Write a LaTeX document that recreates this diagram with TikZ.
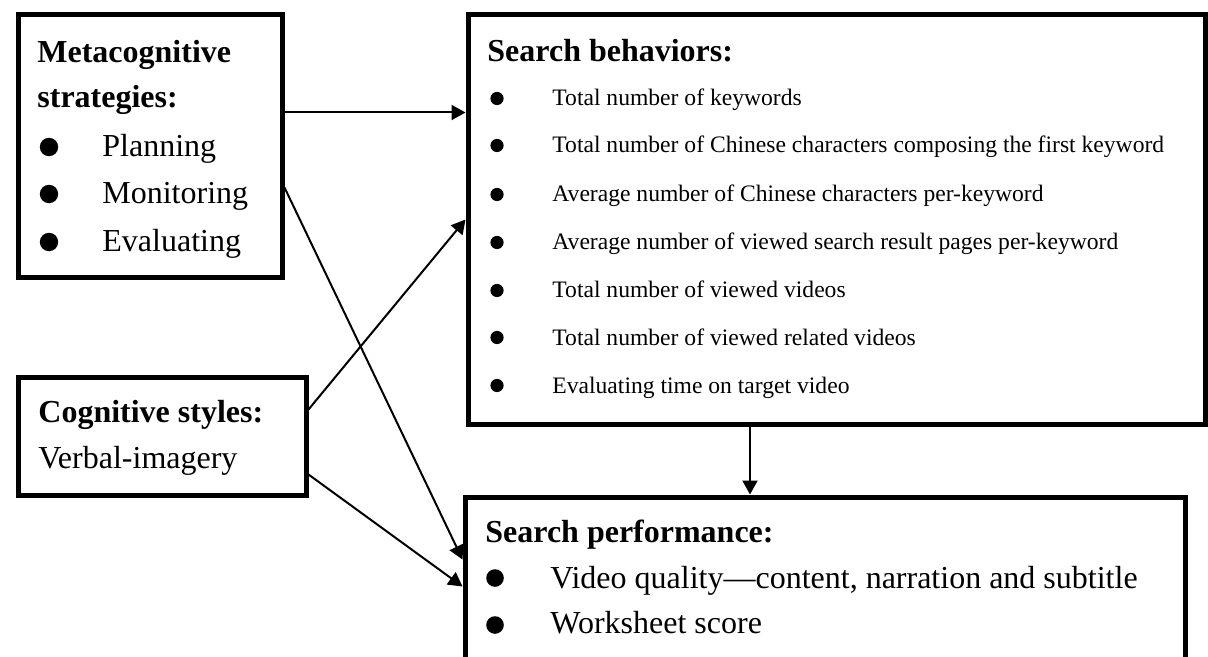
\documentclass[tikz,border=0pt]{standalone}
\usepackage{fontspec}
\setmainfont{Liberation Serif}
\usetikzlibrary{arrows.meta,calc}

\begin{document}
\begin{tikzpicture}[x=0.5pt,y=-0.5pt,
  frame/.style={draw, line width=2.5pt, rectangle, inner sep=0pt, anchor=north west, fill=white},
  link/.style={line width=1pt, -{Triangle[length=7pt,width=7.5pt]}},
  head/.style={font=\bfseries\fontsize{16pt}{19pt}\selectfont, anchor=base west, inner sep=0pt},
  big/.style={font=\fontsize{16pt}{19pt}\selectfont, anchor=base west, inner sep=0pt},
  small/.style={font=\fontsize{11.8pt}{14pt}\selectfont, anchor=base west, inner sep=0pt},
  dot/.style={fill=black}
]
\useasboundingbox (0,0) rectangle (1208,657);
\clip (0,0) rectangle (1208,657);

% boxes
\node[frame, minimum width=132pt, minimum height=131.5pt] (meta) at (15.5,12.5) {};
\node[frame, minimum width=368.5pt, minimum height=204.5pt] (beh) at (465.5,12.5) {};
\node[frame, minimum width=144pt, minimum height=59pt] (cog) at (15.5,374.5) {};
\node[frame, minimum width=360pt, minimum height=150pt] (perf) at (462.5,494.5) {};

% metacognitive strategies
\node[head] (metaA) at (37,63) {Metacognitive};
\node[head] (metaB) at (37,108) {strategies:};
\foreach \y/\t [count=\i] in {157/Planning,204/Monitoring,252/Evaluating}{
  \fill[dot] (49,\y-10) circle[radius=4.6pt];
  \node[big] (metaI\i) at (102,\y) {\t};
}

% search behaviors
\node[head] (behH) at (487,62) {Search behaviors:};
\foreach \y/\t [count=\i] in {
  106/Total number of keywords,
  153/Total number of Chinese characters composing the first keyword,
  202/Average number of Chinese characters per-keyword,
  250/Average number of viewed search result pages per-keyword,
  298/Total number of viewed videos,
  345/Total number of viewed related videos,
  393/Evaluating time on target video}{
  \fill[dot] (497,\y-7.5) circle[radius=3.3pt];
  \node[small] (behI\i) at (552,\y) {\t};
}

% cognitive styles
\node[head] (cogH) at (38,422) {Cognitive styles:};
\node[big] (cogI) at (38,468) {Verbal-imagery};

% search performance
\node[head] (perfH) at (485,542) {Search performance:};
\fill[dot] (495,578) circle[radius=4.4pt];
\node[big] (perfI1) at (550,588) {Video quality—content, narration and subtitle};
\fill[dot] (495,625) circle[radius=4.4pt];
\node[big] (perfI2) at (550,633) {Worksheet score};

% connectors
\coordinate (vx) at (750,0);
\draw[link] ($(meta.north east)+(0,100)$) -- ($(beh.north west)+(0,100)$);
\draw[link] ($(meta.north east)+(0,175)$) -- ($(perf.north west)+(0,65)$);
\draw[link] ($(cog.north east)+(0,35)$) -- ($(beh.north west)+(0,207)$);
\draw[link] ($(cog.north east)+(0,100)$) -- ($(perf.north west)+(0,92)$);
\draw[link] (beh.south -| vx) -- (perf.north -| vx);
\end{tikzpicture}
\end{document}
